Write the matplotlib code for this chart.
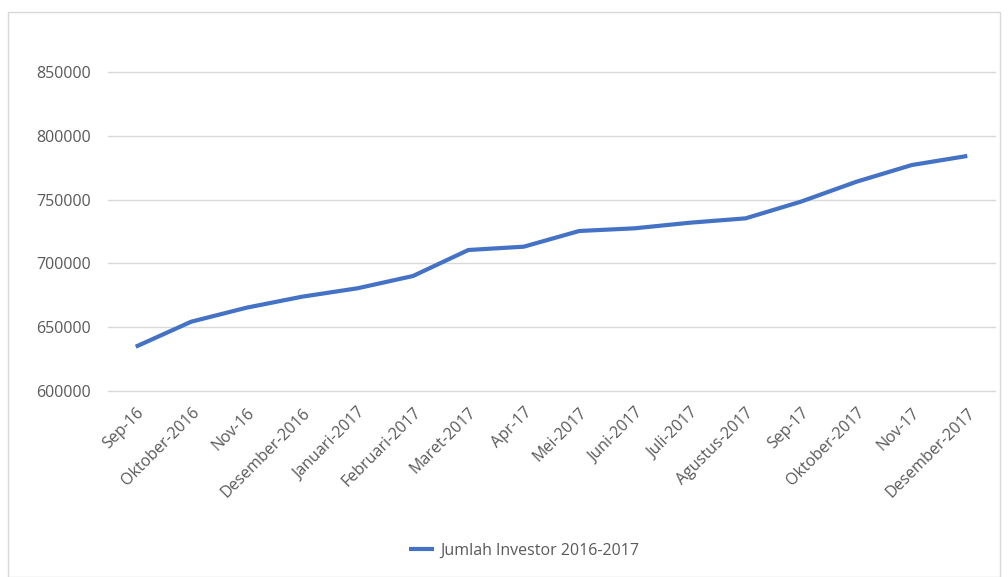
import matplotlib.pyplot as plt
import matplotlib.transforms as mtransforms
from matplotlib.patches import Rectangle

# data
bulan = ['Sep-16', 'Oktober-2016', 'Nov-16', 'Desember-2016', 'Januari-2017',
         'Februari-2017', 'Maret-2017', 'Apr-17', 'Mei-2017', 'Juni-2017',
         'Juli-2017', 'Agustus-2017', 'Sep-17', 'Oktober-2017', 'Nov-17',
         'Desember-2017']
jumlah_investor = [634700, 654300, 665300, 673900, 680500, 690100, 710500, 713100,
                   725400, 727500, 731900, 735300, 748400, 764000, 777100, 784200]
y_ticks = [600000, 650000, 700000, 750000, 800000, 850000]

plt.rcParams['font.family'] = ['Open Sans', 'DejaVu Sans']

W, H = 1008, 577
fig = plt.figure(figsize=(W / 100, H / 100), dpi=100)

# bingkai chart
fig.patches.append(Rectangle((8 / W, 0), (1000 - 8) / W, 1 - 12 / H,
                             transform=fig.transFigure, fill=False,
                             edgecolor='#D9D9D9', linewidth=1))

ax = fig.add_axes([108 / W, 1 - 391 / H, (995 - 108) / W, (391 - 72) / H])
x = range(len(bulan))
garis, = ax.plot(x, jumlah_investor, color='#4472C4', linewidth=3,
                 solid_capstyle='butt', label='Jumlah Investor 2016-2017', zorder=3)

ax.set_xlim(-0.5, len(bulan) - 0.5)
ax.set_ylim(600000, 850000)
ax.set_yticks(y_ticks)
ax.set_yticklabels([str(v) for v in y_ticks])
ax.set_xticks(list(x))
ax.set_xticklabels(bulan, rotation=45, ha='right', rotation_mode='anchor')

# geser label sumbu x sedikit ke kanan
geser = mtransforms.ScaledTranslation(5 / 100, 0, fig.dpi_scale_trans)
for lbl in ax.get_xticklabels():
    lbl.set_transform(lbl.get_transform() + geser)

# garis grid horizontal (tanpa clipping supaya garis 600000 tetap terlihat)
for v in y_ticks:
    ax.axhline(v, color='#D9D9D9', linewidth=1, zorder=1, clip_on=False)
for s in ax.spines.values():
    s.set_visible(False)
ax.tick_params(axis='both', length=0, colors='#595959', labelsize=11.5)
ax.tick_params(axis='y', pad=12)
ax.tick_params(axis='x', pad=10)

fig.legend(handles=[garis], loc='center', bbox_to_anchor=(0.52, 1 - 551 / H),
           frameon=False, fontsize=11.5, labelcolor='#595959',
           handlelength=1.6, handletextpad=0.4)

fig.savefig('out.png', dpi=100)
